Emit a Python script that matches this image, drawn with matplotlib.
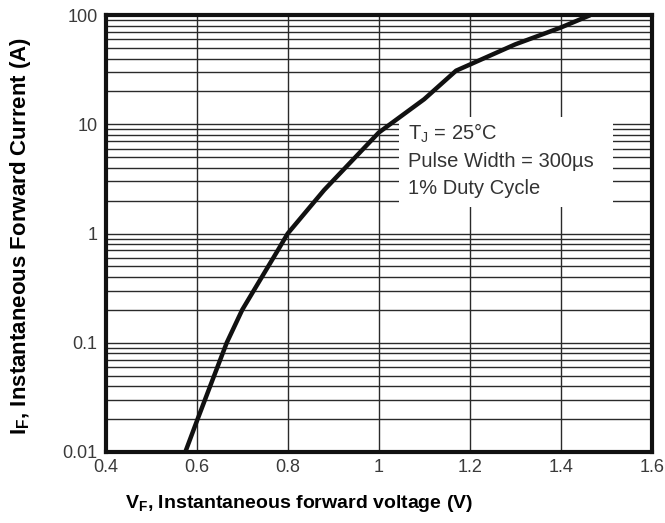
import numpy as np
import matplotlib
matplotlib.use("Agg")
import matplotlib.pyplot as plt
from matplotlib.patches import Rectangle
from matplotlib.ticker import LogLocator

plt.rcParams['font.family'] = ['Liberation Sans', 'DejaVu Sans']
plt.rcParams['mathtext.fontset'] = 'custom'
plt.rcParams['mathtext.rm'] = 'Liberation Sans'
plt.rcParams['mathtext.bf'] = 'Liberation Sans:bold'

# forward voltage (V) vs forward current (A)
vf = [0.575, 0.60, 0.633, 0.666, 0.70, 0.74, 0.779, 0.80, 0.88, 1.00, 1.10, 1.17, 1.30, 1.40, 1.465]
i_f = [0.01, 0.019, 0.0437, 0.1, 0.2, 0.38, 0.71, 1.0, 2.5, 8.4, 17, 31, 54, 77, 100]

xticks = [0.4, 0.6, 0.8, 1.0, 1.2, 1.4, 1.6]
xticklabels = ['0.4', '0.6', '0.8', '1', '1.2', '1.4', '1.6']
yticks = [0.01, 0.1, 1, 10, 100]
yticklabels = ['0.01', '0.1', '1', '10', '100']

fig = plt.figure(figsize=(6.65, 5.23), dpi=100)
ax = fig.add_axes([0.159, 0.136, 0.821, 0.835])

ax.set_yscale('log')
ax.set_xlim(0.4, 1.6)
ax.set_ylim(0.01, 100)

# grid
ax.set_xticks(xticks)
ax.set_xticklabels(xticklabels)
ax.set_yticks(yticks)
ax.set_yticklabels(yticklabels)
ax.yaxis.set_minor_locator(LogLocator(base=10, subs=np.arange(2, 10)))
ax.yaxis.set_minor_formatter(plt.NullFormatter())
ax.grid(True, which='both', axis='y', color='#2a2a2a', lw=1.0, zorder=1)
ax.grid(True, which='major', axis='x', color='#2a2a2a', lw=1.0, zorder=1)
ax.tick_params(which='both', length=0, labelsize=13, labelcolor='#3a3a3a')
ax.tick_params(axis='x', pad=5)
ax.tick_params(axis='y', pad=6)

for s in ax.spines.values():
    s.set_linewidth(3)
    s.set_color('#111111')
    s.set_zorder(5)

# white box behind annotation
ax.add_patch(Rectangle((1.045, 1.75), 0.47, 11.6 - 1.75, facecolor='white',
                       edgecolor='none', zorder=2))

ax.plot(vf, i_f, color='#111111', lw=3.2, zorder=3, solid_capstyle='butt')

ax.text(1.065, 8.3, r'T$_\mathregular{J}$ = 25°C', fontsize=14.5, color='#333333', va='center', zorder=4)
ax.text(1.065, 4.6, 'Pulse Width = 300µs', fontsize=14.5, color='#333333', va='center', zorder=4)
ax.text(1.065, 2.6, '1% Duty Cycle', fontsize=14.5, color='#333333', va='center', zorder=4)

ax.set_xlabel(r'V$_\mathbf{F}$, Instantaneous forward voltage (V)', fontsize=14,
              fontweight='bold', labelpad=14)
ax.xaxis.set_label_coords(0.354, -0.095)
ax.set_ylabel(r'I$_\mathbf{F}$, Instantaneous Forward Current (A)', fontsize=16,
              fontweight='bold')
ax.yaxis.set_label_coords(-0.133, 0.494)

fig.savefig('out.png', dpi=100)
